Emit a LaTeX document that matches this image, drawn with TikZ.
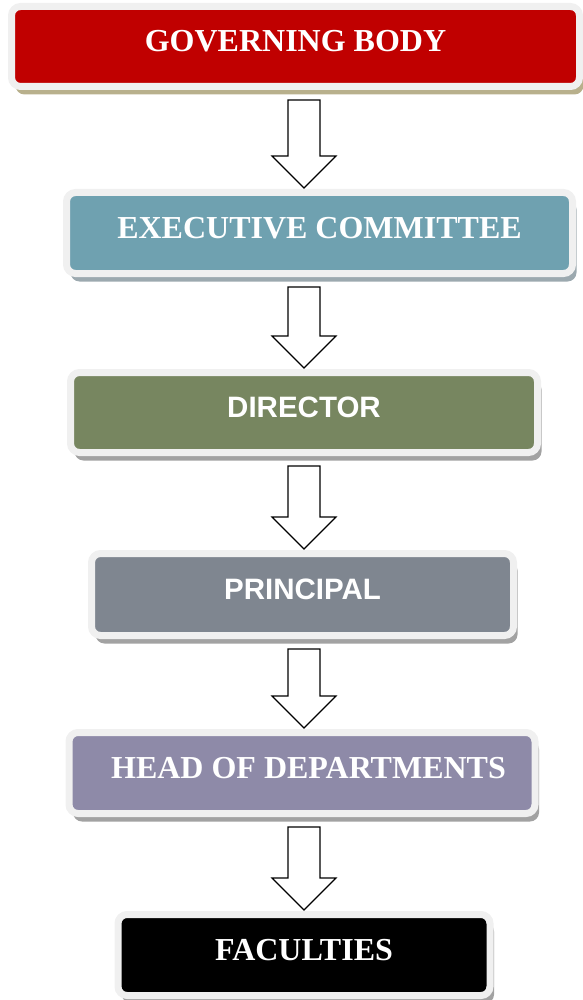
\documentclass[tikz,border=0pt]{standalone}
\usepackage{fontspec}
\setmainfont{Liberation Serif}
\setsansfont{Liberation Sans}
\usetikzlibrary{calc, shadows}

\definecolor{govred}{HTML}{C00000}
\definecolor{execteal}{HTML}{6FA1B0}
\definecolor{dirolive}{HTML}{778660}
\definecolor{prigrey}{HTML}{7F8690}
\definecolor{hodlilac}{HTML}{8E8AA8}
\definecolor{framegrey}{HTML}{F0F0F0}
\definecolor{tanshadow}{HTML}{B8B08C}
\definecolor{blueshadow}{HTML}{9CA9AF}
\definecolor{greyshadow}{HTML}{A2A2A2}

\begin{document}
\begin{tikzpicture}[x=1pt, y=-1pt,
  box/.style={draw=framegrey, line width=7pt, rounded corners=9pt,
              text=white, inner sep=0pt, text height=21pt, text depth=11pt,
              font=\bfseries\fontsize{32}{36}\selectfont},
  sansbox/.style={box, font=\sffamily\bfseries\fontsize{29.5}{34}\selectfont},
  backshadow/.style={drop shadow={shadow xshift=4pt, shadow yshift=-8pt,
                     fill=#1, opacity=1}},
  hollow/.style={draw=black, fill=white, line width=1.2pt, line join=miter}
]
\useasboundingbox (0,0) rectangle (582,1000);

%
%  Chain of command, top to bottom, arrows on the axis x = 304
%

% --- levels ---
\node[box, fill=govred, backshadow=tanshadow,
      minimum width=568pt, minimum height=80pt]
      (gov) at (295.5, 46.5) {GOVERNING BODY};

\node[box, fill=execteal, backshadow=blueshadow,
      minimum width=506pt, minimum height=81pt]
      (exec) at (319.5, 233) {EXECUTIVE COMMITTEE};

\node[sansbox, fill=dirolive, backshadow=greyshadow,
      minimum width=467pt, minimum height=80pt]
      (dir) at (304, 412.5) {DIRECTOR};

\node[sansbox, fill=prigrey, backshadow=greyshadow,
      minimum width=422pt, minimum height=82pt]
      (pri) at (302.5, 594.5) {PRINCIPAL};

\node[box, fill=hodlilac, backshadow=greyshadow,
      minimum width=466pt, minimum height=81pt]
      (hod) at (302, 773) {\hspace*{13pt}HEAD OF DEPARTMENTS};

\node[box, fill=black, backshadow=greyshadow,
      minimum width=372pt, minimum height=81pt]
      (fac) at (304, 955) {FACULTIES};

% ---- Connections ----
\coordinate (axis) at (304, 0);

\foreach \a/\b in {gov/exec, exec/dir, dir/pri, pri/hod, hod/fac}
  \draw[hollow] let \p1=(axis |- \a.south), \p2=(axis |- \b.north) in
    (\x1-16pt, \y1-10pt) -- (\x1+16pt, \y1-10pt) -- (\x1+16pt, \y2+33pt)
    -- (\x1+32pt, \y2+33pt) -- (\x1, \y2+1pt) -- (\x1-32pt, \y2+33pt)
    -- (\x1-16pt, \y2+33pt) -- cycle;

\end{tikzpicture}
\end{document}
